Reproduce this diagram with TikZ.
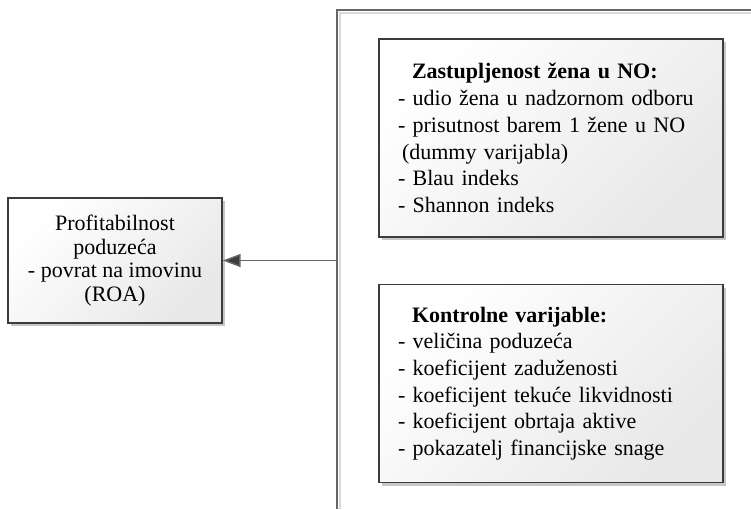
\documentclass[tikz,border=0pt]{standalone}
\usepackage{fontspec}
\setmainfont{Liberation Serif}
\usetikzlibrary{shadows,arrows.meta}

\definecolor{boxline}{HTML}{3C3C3C}
\definecolor{connline}{HTML}{666666}

\begin{document}
\begin{tikzpicture}[x=1pt, y=-1pt,
    varbox/.style = {draw=boxline, line width=1.3pt, shading=axis,
        top color=white, bottom color=black!9, shading angle=45,
        drop shadow={shadow xshift=3pt, shadow yshift=-3pt, fill=black!22, opacity=1},
        inner sep=0pt},
    listbox/.style = {varbox, minimum width=344pt, minimum height=198pt,
        text width=306pt, align=left, inner xsep=19pt,
        font=\fontsize{22}{26.7}\selectfont},
    conn/.style = {draw=connline, line width=1.5pt,
        -{Triangle[length=18pt, width=13pt, fill=boxline]}}]
        \useasboundingbox (0,0) rectangle (751,509);

        %% frame around the independent variables
        \draw[black!15, line width=1.2pt] (751,13) -- (340,13) -- (340,509);
        \draw[connline, line width=1.5pt] (751,10) -- (337,10) -- (337,509);
        \coordinate (frame w) at (337,260.5);

        %% dependent variable
        \node[varbox, minimum width=214pt, minimum height=125pt, align=center,
              font=\fontsize{22}{23.5}\selectfont] (roa) at (115,260.5)
              {Profitabilnost\\ poduzeća\\ - povrat na imovinu\\ (ROA)};

        %% independent variables
        \node[listbox] (zene) at (551,138)
              {\hspace*{14pt}\textbf{Zastupljenost žena u NO:}\\
               - udio žena u nadzornom odboru\\
               - prisutnost barem 1 žene u NO\\
               \hspace*{4pt}(dummy varijabla)\\
               - Blau indeks\\
               - Shannon indeks};

        \node[listbox] (kontrol) at (551,383.5)
              {\hspace*{14pt}\textbf{Kontrolne varijable:}\\
               - veličina poduzeća\\
               - koeficijent zaduženosti\\
               - koeficijent tekuće likvidnosti\\
               - koeficijent obrtaja aktive\\
               - pokazatelj financijske snage};

        %% connector
        \draw[conn] (frame w) -- (roa.east);

\end{tikzpicture}
\end{document}
